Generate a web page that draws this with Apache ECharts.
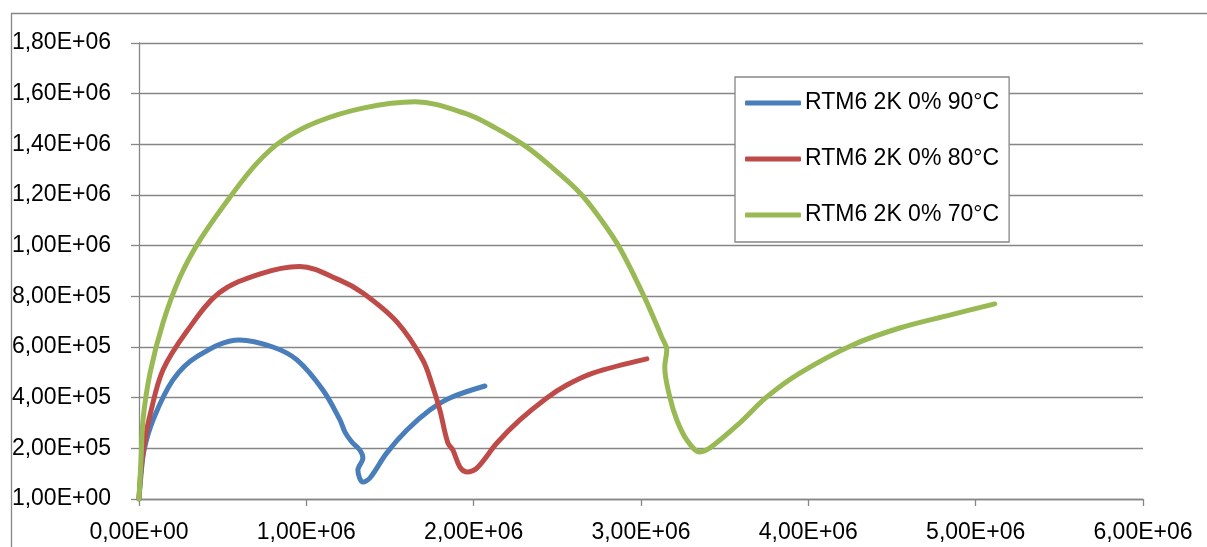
<!DOCTYPE html>
<html>
<head>
<meta charset="utf-8">
<script src="https://cdn.jsdelivr.net/npm/echarts@6/dist/echarts.min.js"></script>
<style>
html,body{margin:0;padding:0;background:#fff;}
#chart{width:1207px;height:547px;}
</style>
</head>
<body>
<div id="chart"></div>
<script>
// Series names (legend)
var seriesNames = ['RTM6 2K 0% 90°C', 'RTM6 2K 0% 80°C', 'RTM6 2K 0% 70°C'];

// RTM6 2K 0% 90°C  [x, y]
var data90 = [
  [0, 1], [1.2e4, 9.5e4], [3.0e4, 1.93e5], [8.4e4, 3.12e5], [2.03e5, 4.70e5],
  [3.46e5, 5.62e5], [6.0e5, 6.28e5], [8.0e5, 6.00e5], [9.44e5, 5.49e5],
  [1.099e6, 4.30e5], [1.201e6, 3.12e5], [1.231e6, 2.64e5], [1.272e6, 2.25e5],
  [1.320e6, 1.93e5], [1.338e6, 1.62e5], [1.308e6, 1.14e5], [1.338e6, 6.7e4],
  [1.380e6, 8.3e4], [1.481e6, 1.82e5], [1.601e6, 2.72e5], [1.738e6, 3.51e5],
  [1.858e6, 3.99e5], [2.067e6, 4.46e5]
];

// RTM6 2K 0% 80°C
var data80 = [
  [0, 1], [1.2e4, 1.14e5], [3.6e4, 2.33e5], [6.6e4, 3.32e5], [1.43e5, 5.09e5],
  [2.87e5, 6.63e5], [4.78e5, 8.13e5], [7.2e5, 8.88e5], [9.6e5, 9.18e5],
  [1.2e6, 8.64e5], [1.338e6, 8.13e5], [1.541e6, 6.99e5], [1.696e6, 5.49e5],
  [1.756e6, 4.42e5], [1.798e6, 3.51e5], [1.846e6, 2.21e5], [1.876e6, 1.93e5],
  [1.918e6, 1.26e5], [1.959e6, 1.07e5], [2.019e6, 1.22e5], [2.139e6, 2.21e5],
  [2.276e6, 3.12e5], [2.437e6, 3.99e5], [2.557e6, 4.50e5], [2.712e6, 4.97e5],
  [3.035e6, 5.53e5]
];

// RTM6 2K 0% 70°C
var data70 = [
  [0, 1], [1.2e4, 1.54e5], [2.4e4, 3.12e5], [6.6e4, 4.97e5], [1.43e5, 6.95e5],
  [2.45e5, 8.76e5], [3.64e5, 1.022e6], [5.44e5, 1.192e6], [7.05e5, 1.326e6],
  [8.60e5, 1.417e6], [1.063e6, 1.488e6], [1.338e6, 1.543e6], [1.65e6, 1.568e6],
  [1.95e6, 1.522e6], [2.13e6, 1.465e6], [2.318e6, 1.389e6],
  [2.473e6, 1.306e6], [2.635e6, 1.208e6], [2.754e6, 1.109e6], [2.873e6, 9.91e5],
  [3.023e6, 7.93e5], [3.124e6, 6.39e5], [3.154e6, 5.88e5], [3.142e6, 5.21e5],
  [3.172e6, 4.03e5], [3.214e6, 3.12e5], [3.274e6, 2.33e5], [3.351e6, 1.86e5],
  [3.411e6, 2.01e5], [3.590e6, 3.00e5], [3.752e6, 4.03e5], [3.949e6, 4.97e5],
  [4.265e6, 6.08e5], [4.546e6, 6.75e5], [4.845e6, 7.26e5], [5.114e6, 7.70e5]
];

var colors = ['#4A7EBB', '#BE4B48', '#98B954'];

function sci(v) {
  if (v === 0) return '0,00E+00';
  var s = v.toExponential(2); // e.g. 2.00e+5
  var parts = s.split('e');
  var mant = parts[0].replace('.', ',');
  var exp = parseInt(parts[1], 10);
  var sign = exp < 0 ? '-' : '+';
  var ae = Math.abs(exp);
  return mant + 'E' + sign + (ae < 10 ? '0' + ae : '' + ae);
}

var FONT = 'Liberation Sans';
var GRID_COLOR = '#868686';

var chart = echarts.init(document.getElementById('chart'), null, {renderer: 'canvas'});
var allData = [data90, data80, data70];
var option = {
  animation: false,
  backgroundColor: '#fff',
  textStyle: {fontFamily: FONT},
  graphic: [{
    type: 'rect',
    left: 9, top: 11,
    shape: {width: 1260, height: 620},
    style: {fill: 'none', stroke: GRID_COLOR, lineWidth: 1.3},
    silent: true, z: -1
  }],
  grid: {left: 139, right: 64, top: 43, bottom: 48, containLabel: false},
  xAxis: {
    type: 'value', min: 0, max: 6e6, interval: 1e6,
    axisLine: {show: true, lineStyle: {color: GRID_COLOR, width: 1.3}},
    axisTick: {show: true, length: 7, lineStyle: {color: GRID_COLOR, width: 1.3}},
    splitLine: {show: false},
    axisLabel: {
      color: '#000', fontFamily: FONT, fontSize: 23, margin: 22,
      formatter: function (v) { return sci(v); }
    }
  },
  yAxis: {
    type: 'value', min: 0, max: 1.8e6, interval: 2e5,
    axisLine: {show: true, lineStyle: {color: GRID_COLOR, width: 1.3}},
    axisTick: {show: true, length: 8, lineStyle: {color: GRID_COLOR, width: 1.3}},
    splitLine: {show: true, lineStyle: {color: GRID_COLOR, width: 1.3}},
    axisLabel: {
      color: '#000', fontFamily: FONT, fontSize: 23, margin: 28,
      formatter: function (v) { return v === 0 ? '1,00E+00' : sci(v); }
    }
  },
  legend: {
    orient: 'vertical',
    left: 735, top: 77,
    padding: [12, 10, 13, 10],
    itemGap: 28,
    itemWidth: 56, itemHeight: 5,
    icon: 'roundRect',
    backgroundColor: '#fff',
    borderColor: GRID_COLOR, borderWidth: 1.3,
    textStyle: {color: '#000', fontFamily: FONT, fontSize: 23, lineHeight: 28, padding: [0, 0, 0, -1]},
    data: seriesNames
  },
  series: seriesNames.map(function (n, i) {
    return {
      name: n, type: 'line', data: allData[i],
      symbol: 'none', smooth: 0.35,
      color: colors[i],
      lineStyle: {width: 5, color: colors[i], cap: 'round', join: 'round'},
      z: 3 + i
    };
  })
};
chart.setOption(option);
</script>
</body>
</html>
